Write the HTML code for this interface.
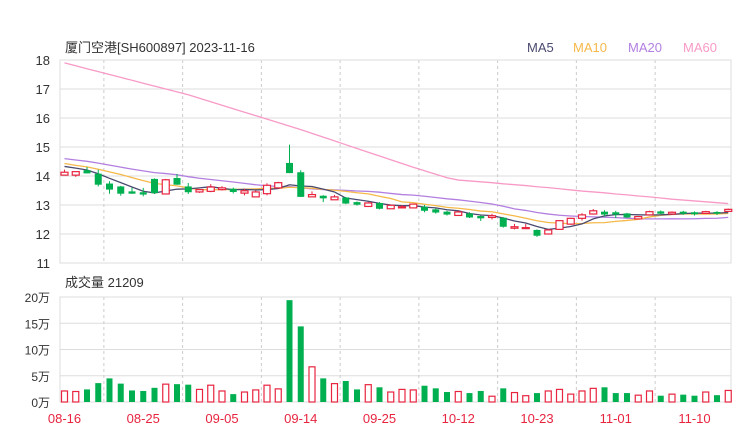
<!DOCTYPE html>
<html><head><meta charset="utf-8"><style>
body{margin:0;background:#fff;width:740px;height:440px;overflow:hidden;font-family:"Liberation Sans","Noto Sans CJK SC",sans-serif}
</style></head><body>
<svg id="c" width="740" height="440" xmlns="http://www.w3.org/2000/svg" font-family="Liberation Sans, Noto Sans CJK SC, sans-serif">
<text x="65" y="52" font-size="13" fill="#333">厦门空港[SH600897] 2023-11-16</text>
<g font-size="13">
<text x="527" y="52" fill="#4a4a70">MA5</text>
<text x="573" y="52" fill="#f5b94a">MA10</text>
<text x="628" y="52" fill="#b27fe0">MA20</text>
<text x="683" y="52" fill="#f79ac7">MA60</text>
</g>
<text x="65" y="287" font-size="13" fill="#333">成交量 21209</text>
<g id="grid"></g><g id="ma"></g><g id="candles"></g><g id="vols"></g><g id="axes"></g>
</svg>
<script>
const dates=["08-16","08-25","09-05","09-14","09-25","10-12","10-23","11-01","11-10"];
const priceTicks=[11,12,13,14,15,16,17,18];
const volTicks=[0,5,10,15,20];
const opens=[14.03,14.03,14.2,14.08,13.74,13.64,13.47,13.44,13.9,13.38,13.93,13.64,13.45,13.47,13.53,13.56,13.41,13.28,13.39,13.59,14.45,14.13,13.28,13.32,13.18,13.26,13.1,12.95,13.07,12.87,12.9,12.9,12.94,12.85,12.77,12.64,12.71,12.62,12.57,12.56,12.2,12.2,12.14,12.0,12.16,12.34,12.54,12.69,12.77,12.75,12.71,12.52,12.66,12.78,12.69,12.77,12.75,12.71,12.76,12.78];
const closes=[14.13,14.15,14.09,13.7,13.53,13.39,13.39,13.36,13.41,13.87,13.7,13.44,13.53,13.62,13.59,13.45,13.49,13.45,13.68,13.77,14.1,13.28,13.36,13.23,13.28,13.05,13.01,13.07,12.87,12.99,12.94,13.03,12.8,12.74,12.67,12.76,12.57,12.54,12.63,12.25,12.25,12.22,11.94,12.14,12.46,12.54,12.66,12.8,12.67,12.67,12.57,12.6,12.77,12.7,12.75,12.7,12.68,12.77,12.7,12.85];
const highs=[14.22,14.15,14.31,14.22,13.82,13.66,13.6,13.59,13.92,13.9,14.07,13.76,13.55,13.72,13.65,13.6,13.56,13.5,13.75,13.8,15.08,14.2,13.47,13.34,13.35,13.28,13.12,13.1,13.1,13.02,13.0,13.05,13.0,12.88,12.8,12.8,12.75,12.64,12.7,12.58,12.35,12.35,12.16,12.16,12.48,12.56,12.72,12.86,12.82,12.8,12.73,12.62,12.8,12.81,12.78,12.8,12.78,12.8,12.79,12.88];
const lows=[14.03,13.97,14.09,13.64,13.39,13.32,13.39,13.3,13.38,13.38,13.7,13.38,13.42,13.44,13.5,13.4,13.33,13.26,13.33,13.58,14.1,13.28,13.28,13.1,13.18,13.03,12.98,12.93,12.85,12.87,12.88,12.9,12.75,12.7,12.64,12.62,12.55,12.45,12.5,12.22,12.16,12.17,11.9,11.98,12.14,12.32,12.46,12.67,12.6,12.55,12.55,12.5,12.64,12.68,12.66,12.66,12.64,12.69,12.66,12.76];
const volumes=[2.1,2.0,2.4,3.6,4.5,3.5,2.2,2.1,2.7,3.4,3.4,3.3,2.4,3.2,2.1,1.5,1.9,2.3,3.2,2.5,19.4,14.4,6.7,4.5,3.5,4.0,2.4,3.3,2.8,1.9,2.4,2.3,3.1,2.6,1.9,2.0,1.7,2.1,1.1,2.6,1.8,1.2,1.7,2.1,2.4,1.5,2.1,2.6,2.8,1.7,1.7,1.3,2.1,1.2,1.5,1.4,1.2,1.9,1.3,2.2];
const priorCloses=[15.1,15.0,14.95,14.9,14.8,14.75,14.6,14.6,14.5,14.5,14.8,14.6,14.5,14.45,14.3,14.45,14.4,14.35,14.32];
const ma60=[17.9,17.8,17.7,17.6,17.5,17.4,17.3,17.2,17.1,17.0,16.9,16.8,16.68,16.56,16.44,16.32,16.2,16.08,15.96,15.84,15.72,15.6,15.47,15.34,15.21,15.08,14.95,14.82,14.69,14.56,14.43,14.3,14.18,14.06,13.94,13.86,13.83,13.8,13.77,13.73,13.7,13.67,13.63,13.6,13.56,13.52,13.48,13.45,13.42,13.38,13.35,13.31,13.28,13.24,13.2,13.17,13.14,13.11,13.08,13.05];
const NS="http://www.w3.org/2000/svg";
const L=60,R=731,PT=60,PB=263,VT=297,VB=402;
const step=11.25, x0=64.5;
const xs=i=>x0+i*step;
const py=p=>PT+(18-p)*(PB-PT)/7;
const vy=v=>VB-v*(VB-VT)/20;
function mk(tag,attrs,parent){const e=document.createElementNS(NS,tag);for(const k in attrs)e.setAttribute(k,attrs[k]);document.getElementById(parent).appendChild(e);return e;}
priceTicks.forEach(t=>{
 const l=mk('line',{x1:L,x2:R,y1:py(t),y2:py(t),stroke:'#ddd','stroke-width':1},'grid');
 
 
 const tx=mk('text',{x:50,y:py(t)+5,'font-size':13,fill:'#333','text-anchor':'end'},'axes');tx.textContent=t;
 
 
});
volTicks.forEach(t=>{
 const l=mk('line',{x1:L,x2:R,y1:vy(t),y2:vy(t),stroke:'#ddd','stroke-width':1},'grid');
 
 
 const tx=mk('text',{x:50,y:vy(t)+5,'font-size':12,fill:'#333','text-anchor':'end'},'axes');tx.textContent=t+'万';
 
 
});
dates.forEach((d,k)=>{
 const gx=xs(k*7+3.5);
 if(gx<R){[[PT,PB],[VT,VB]].forEach(([a,b])=>{const l=mk('line',{x1:gx,x2:gx,y1:a,y2:b,stroke:'#ccc','stroke-dasharray':'3,3'},'grid');
 
 });}
 const tx=mk('text',{x:xs(k*7),y:423,'font-size':13,fill:'#e8243f','text-anchor':'middle'},'axes');tx.textContent=d;
 
 
});
[[PT,PB],[VT,VB]].forEach(([a,b])=>{const r=mk('rect',{x:L,y:a,width:R-L,height:b-a,fill:'none',stroke:'#ddd'},'grid');
 
 });
const all=priorCloses.concat(closes);
function ma(n){return closes.map((c,i)=>{const j=i+priorCloses.length;let s=0,m=0;for(let k=Math.max(0,j-n+1);k<=j;k++){s+=all[k];m++;}return s/m;});}
[[ma60,'#f79ac7','ma60-line'],[ma(20),'#b27fe0','ma20-line'],[ma(10),'#f5b94a','ma10-line'],[ma(5),'#4a4a70','ma5-line']].forEach(([arr,col,nm])=>{
 const p=mk('polyline',{points:arr.map((v,i)=>xs(i)+','+py(v)).join(' '),fill:'none',stroke:col,'stroke-width':1.3},'ma');
 
 
});
const W=7;
closes.forEach((c,i)=>{
 const o=opens[i],up=c>=o,col=up?'#e8243f':'#00b050',x=xs(i);
 const w=mk('line',{x1:x,x2:x,y1:py(highs[i]),y2:py(lows[i]),stroke:col,'stroke-width':1},'candles');
 
 
 const top=py(Math.max(o,c)),h=Math.max(1,py(Math.min(o,c))-top);
 const b=mk('rect',{x:x-W/2,y:top,width:W,height:h,fill:up?'#fff':col,stroke:col,'stroke-width':up?1.2:0},'candles');
 
 
 const vt=vy(volumes[i]);
 const v=mk('rect',{x:x-W/2+0.5,y:vt,width:W-1,height:VB-vt,fill:up?'#fff':col,stroke:up?col:'none','stroke-width':1.2},'vols');
 
 
});
</script>
</body></html>
